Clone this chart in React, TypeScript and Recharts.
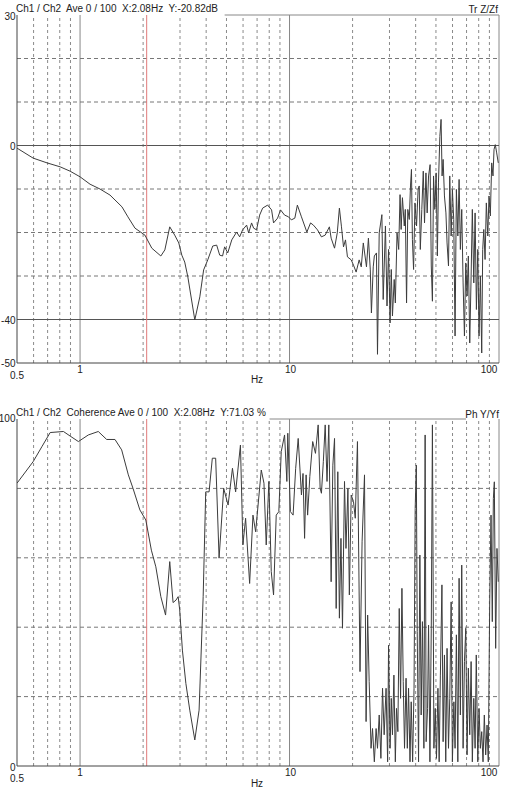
import React from 'react';
import { LineChart, Line, XAxis, YAxis, ReferenceLine } from 'recharts';

// ---------- data ----------
const transfer: [number, number][] = [
  [0.5, -0.6], [0.597, -2.9], [0.696, -4.0], [0.803, -4.9], [0.896, -5.9], [1.0, -7.2], [1.116, -8.9],
  [1.245, -10.0], [1.39, -11.4], [1.585, -14.1], [1.692, -16.4], [1.829, -19.0], [2.04, -20.6], [2.2, -23.6],
  [2.43, -25.4], [2.54, -24.0], [2.68, -18.7], [2.83, -20.6], [2.96, -22.4], [3.06, -25.2], [3.16, -26.8],
  [3.27, -30.2], [3.53, -40.1], [3.73, -34.8], [3.89, -28.6], [4.07, -26.3], [4.3, -23.1], [4.49, -22.9],
  [4.64, -25.2], [4.79, -25.4], [4.9, -23.3], [5.07, -24.7], [5.3, -21.7], [5.59, -19.9], [5.78, -21.0],
  [5.97, -19.4], [6.24, -18.3], [6.38, -20.1], [6.59, -17.8], [6.74, -19.0], [6.96, -19.4], [7.2, -16.0],
  [7.44, -14.4], [7.86, -13.7], [8.21, -14.8], [8.39, -17.8], [8.77, -16.7], [9.06, -14.8], [9.47, -16.0],
  [9.89, -16.4], [10.2, -17.1], [10.6, -16.7], [10.9, -13.7], [11.4, -16.4], [12.1, -19.9], [12.6, -17.8],
  [13.0, -18.3], [13.6, -19.4], [14.2, -21.0], [14.8, -20.6], [15.5, -18.7], [15.8, -21.3], [16.4, -23.6],
  [16.9, -20.1], [17.3, -14.4], [17.7, -18.7], [18.1, -23.3], [18.5, -21.7], [18.9, -25.6], [19.7, -26.3],
  [20.2, -27.5], [20.8, -29.1], [21.5, -26.3], [22.0, -27.9], [22.5, -22.4], [23.3, -27.9], [23.8, -21.3],
  [24.3, -28.6], [24.6, -38.5], [25.1, -27.9], [25.4, -25.4], [26.0, -24.7], [26.3, -48.0], [26.8, -20.1],
  [27.6, -15.9], [28.0, -35.4], [28.7, -18.5], [29.2, -36.9], [29.7, -23.9], [30.2, -40.8], [30.6, -28.5],
  [31.0, -39.2], [31.6, -30.8], [32.0, -36.2], [32.6, -20.1], [33.2, -23.9], [33.7, -11.3], [34.1, -19.3],
  [34.6, -12.0], [35.3, -18.5], [35.7, -14.7], [36.2, -36.2], [36.7, -14.7], [37.3, -17.0], [37.8, -9.3],
  [38.2, -5.5], [38.6, -21.6], [39.1, -28.5], [39.7, -13.2], [40.4, -18.5], [41.1, -10.1], [41.6, -9.3],
  [42.1, -23.9], [42.8, -14.7], [43.5, -5.9], [44.1, -17.8], [44.8, -6.3], [45.4, -15.5], [46.1, -7.0],
  [46.9, -4.4], [47.5, -27.7], [48.1, -35.8], [48.7, -7.0], [49.4, -14.7], [50.1, -6.3], [50.8, -25.4],
  [51.4, -8.6], [52.2, 2.1], [52.9, 6.0], [53.5, -7.0], [54.1, -3.2], [54.9, -11.6], [55.8, -15.5],
  [56.5, -22.4], [57.4, -27.7], [58.2, -7.0], [59.1, -20.8], [59.9, -10.1], [60.8, -17.0], [61.7, -43.8],
  [62.6, -10.1], [63.6, -20.8], [64.5, -7.8], [65.4, -23.9], [66.4, -14.7], [67.4, -31.6], [68.4, -43.8],
  [69.4, -27.0], [70.4, -34.6], [71.4, -25.4], [72.5, -45.4], [73.6, -30.0], [74.6, -14.7], [75.8, -31.6],
  [76.9, -15.5], [78.0, -37.7], [79.2, -23.9], [80.3, -43.8], [81.5, -30.0], [82.7, -47.7], [83.6, -23.9],
  [84.6, -19.3], [85.8, -26.2], [87.0, -13.2], [88.4, -20.8], [89.6, -11.6], [90.9, -16.2], [92.3, -4.0],
  [93.6, -7.0], [94.7, -0.9], [96.0, 0.2], [97.5, -1.7], [99.2, -4.0],
];

const coherence: [number, number][] = [
  [0.5, 81.5], [0.597, 87.7], [0.657, 92.0], [0.72, 96.1], [0.833, 96.4], [0.896, 95.1], [0.982, 93.5],
  [1.095, 95.4], [1.222, 96.4], [1.34, 94.1], [1.468, 94.1], [1.58, 91.1], [1.7, 83.9], [1.79, 80.0],
  [1.93, 73.8], [2.06, 70.9], [2.19, 62.2], [2.3, 57.4], [2.43, 48.8], [2.56, 43.5], [2.68, 58.9],
  [2.78, 47.1], [2.87, 47.8], [2.94, 48.8], [2.99, 45.0], [3.08, 33.4], [3.2, 23.8], [3.34, 16.1],
  [3.53, 7.5], [3.7, 16.1], [3.87, 48.8], [3.98, 79.0], [4.13, 79.0], [4.28, 88.7], [4.44, 88.7],
  [4.61, 59.9], [4.85, 80.0], [5.09, 75.2], [5.34, 85.8], [5.53, 79.0], [5.83, 92.5], [5.99, 63.7],
  [6.17, 71.4], [6.45, 52.6], [6.69, 72.3], [6.89, 67.5], [7.33, 85.3], [7.55, 81.5], [7.74, 63.7],
  [7.97, 82.0], [8.18, 56.0], [8.39, 49.3], [8.64, 72.3], [8.89, 73.3], [9.13, 90.6], [9.47, 95.4],
  [9.71, 82.0], [9.81, 95.9], [10.1, 73.3], [10.4, 72.3], [10.7, 85.8], [11.0, 94.4], [11.4, 78.1],
  [11.6, 84.3], [11.8, 65.6], [12.0, 83.9], [12.2, 72.3], [12.5, 83.4], [12.9, 93.5], [13.3, 90.1],
  [13.7, 98.3], [14.0, 80.0], [14.2, 78.6], [14.5, 87.7], [14.8, 98.3], [15.1, 82.0], [15.4, 98.3],
  [15.8, 53.1], [16.1, 86.7], [16.4, 94.4], [16.7, 45.4], [17.0, 84.8], [17.3, 42.6], [17.6, 65.6],
  [17.9, 39.7], [18.3, 82.0], [18.6, 62.7], [19.0, 80.0], [19.3, 49.3], [19.7, 78.1], [20.2, 76.2],
  [20.6, 71.4], [21.1, 93.5], [21.7, 27.2], [22.2, 64.6], [22.8, 83.9], [23.2, 12.8], [23.6, 43.5],
  [24.0, 24.3], [24.5, 5.1], [24.9, 10.8], [25.4, 1.2], [25.9, 10.8], [26.3, 5.1], [26.8, 14.7],
  [27.3, 2.2], [27.8, 22.4], [28.3, 9.0], [28.9, 22.4], [29.4, 1.2], [29.7, 34.8], [30.2, 5.1],
  [30.6, 19.5], [31.0, 9.0], [31.5, 26.2], [32.0, 1.2], [32.4, 16.6], [32.9, 9.9], [33.4, 45.4],
  [33.9, 19.5], [34.4, 51.2], [34.9, 24.3], [35.4, 5.1], [36.0, 25.3], [36.5, 5.1], [37.0, 22.4],
  [37.6, 1.2], [38.1, 18.5], [38.7, 1.2], [39.3, 22.4], [39.8, 74.2], [40.3, 86.7], [40.7, 38.7],
  [41.3, 1.2], [41.9, 60.8], [42.5, 14.7], [43.1, 41.6], [43.8, 5.1], [44.4, 95.4], [44.9, 7.0],
  [45.6, 16.6], [46.1, 40.6], [46.8, 1.2], [47.5, 39.7], [48.1, 98.3], [48.9, 5.1], [49.6, 16.6],
  [50.3, 2.2], [51.1, 22.4], [51.8, 1.2], [52.5, 26.2], [53.4, 52.2], [54.1, 7.0], [54.9, 32.0],
  [55.7, 1.2], [56.5, 33.9], [57.4, 5.1], [58.2, 19.5], [59.1, 47.3], [59.9, 1.2], [60.9, 18.5],
  [61.7, 5.1], [62.6, 37.8], [63.6, 1.2], [64.5, 54.1], [65.4, 14.7], [66.4, 57.9], [67.4, 5.1],
  [68.4, 30.1], [69.4, 39.7], [70.4, 3.2], [71.4, 28.2], [72.5, 9.0], [73.6, 30.1], [74.6, 1.2],
  [75.8, 19.5], [76.9, 5.1], [77.9, 32.0], [79.2, 1.2], [80.3, 16.6], [81.5, 5.1], [82.7, 9.9],
  [83.9, 1.2], [85.1, 14.7], [86.4, 3.2], [87.7, 11.8], [88.9, 1.2], [90.3, 47.3], [91.6, 72.3],
  [92.9, 41.6], [94.0, 77.1], [95.0, 81.9], [96.4, 33.9], [97.8, 62.7], [99.2, 53.1],
];

const xTicks = [0.5, 1, 10, 100];
const minorHz = [0.6, 0.7, 0.8, 0.9, 2, 3, 4, 5, 6, 7, 8, 9, 20, 30, 40, 50, 60, 70, 80, 90];
const majorHz = [1, 10, 100];
const cursorHz = 2.08;

const trTicks = [30, 0, -40, -50];
const trDashed = [20, 10, -10, -20, -30];
const trSolid = [0, -40];
const cohTicks = [100, 0];
const cohDashed = [80, 60, 40, 20];

const topTitle = 'Ch1 / Ch2  Ave 0 / 100  X:2.08Hz  Y:-20.82dB';
const topRight = 'Tr Z/Zf';
const botTitle = 'Ch1 / Ch2  Coherence Ave 0 / 100  X:2.08Hz  Y:71.03 %';
const botRight = 'Ph Y/Yf';

const trData = transfer.map(([f, v]) => ({ f, v }));
const cohData = coherence.map(([f, v]) => ({ f, v }));

const FONT = '"Liberation Sans", Arial, sans-serif';
const TXT = '#222';

const XTick = (props: any) => {
  const { x, y, payload } = props;
  const v = payload.value;
  let dx = 0;
  let dy = 10;
  if (v === 0.5) dy = 15.5;
  if (v === 10) dx = 1;
  if (v === 100) dx = -5;
  return (
    <text x={x + dx} y={y + dy} textAnchor="middle" fontSize={10} fontFamily={FONT} fill={TXT}>
      {v}
    </text>
  );
};

const makeYTick = (topVal: number, topDy: number, botDy: number) => (props: any) => {
  const { x, y, payload } = props;
  const v = payload.value;
  let dy = 4;
  if (v === topVal) dy = topDy;
  if (v === 0 && topVal === 100) dy = botDy;
  return (
    <text x={x - 1.5} y={y + dy} textAnchor="end" fontSize={10} fontFamily={FONT} fill={TXT}>
      {v}
    </text>
  );
};

const GRID = '#8a8a8a';
const DASH = '3 3';
const TRACE = '#3c3c3c';

export default function App() {
  return (
    <div style={{ position: 'absolute', left: 0, top: 0, width: 506, height: 791, background: '#fff', overflow: 'hidden' }}>
      <div style={{ position: 'absolute', left: 0, top: 0 }}>
        <LineChart width={506} height={395} data={trData} margin={{ top: 15, right: 7, bottom: 0, left: 0 }}>
          <XAxis
            dataKey="f"
            type="number"
            scale="log"
            domain={[0.5, 100]}
            ticks={xTicks}
            allowDataOverflow
            height={32}
            tickLine={false}
            tickSize={0}
            tickMargin={0}
            axisLine={{ stroke: '#444' }}
            tick={<XTick />}
          />
          <YAxis
            type="number"
            domain={[-50, 30]}
            ticks={trTicks}
            width={17}
            tickLine={false}
            tickSize={0}
            tickMargin={0}
            axisLine={{ stroke: '#444' }}
            tick={makeYTick(30, 5, 4)}
            allowDataOverflow
          />
          {minorHz.map((h) => (
            <ReferenceLine key={'mh' + h} x={h} stroke={GRID} strokeDasharray={DASH} strokeWidth={1} />
          ))}
          {majorHz.map((h) => (
            <ReferenceLine key={'Mh' + h} x={h} stroke="#888" strokeWidth={1} />
          ))}
          {trDashed.map((v) => (
            <ReferenceLine key={'td' + v} y={v} stroke="#777" strokeDasharray="4 3" strokeWidth={1} />
          ))}
          {trSolid.map((v) => (
            <ReferenceLine key={'ts' + v} y={v} stroke="#555" strokeWidth={1} />
          ))}
          <ReferenceLine segment={[{ x: 4.9, y: 30 }, { x: 100, y: 30 }]} stroke="#888" strokeWidth={1} />
          <ReferenceLine x={cursorHz} stroke="#e07a7a" strokeWidth={1} />
          <Line type="linear" dataKey="v" stroke={TRACE} strokeWidth={1} dot={false} isAnimationActive={false} />
        </LineChart>
      </div>

      <div style={{ position: 'absolute', left: 0, top: 400 }}>
        <LineChart width={506} height={391} data={cohData} margin={{ top: 19, right: 7, bottom: 0, left: 0 }}>
          <XAxis
            dataKey="f"
            type="number"
            scale="log"
            domain={[0.5, 100]}
            ticks={xTicks}
            allowDataOverflow
            height={25}
            tickLine={false}
            tickSize={0}
            tickMargin={0}
            axisLine={{ stroke: '#444' }}
            tick={<XTick />}
          />
          <YAxis
            type="number"
            domain={[0, 100]}
            ticks={cohTicks}
            width={17}
            tickLine={false}
            tickSize={0}
            tickMargin={0}
            axisLine={{ stroke: '#444' }}
            tick={makeYTick(100, 3, 5)}
            allowDataOverflow
          />
          {minorHz.map((h) => (
            <ReferenceLine key={'mh' + h} x={h} stroke={GRID} strokeDasharray={DASH} strokeWidth={1} />
          ))}
          {majorHz.map((h) => (
            <ReferenceLine key={'Mh' + h} x={h} stroke="#888" strokeWidth={1} />
          ))}
          {cohDashed.map((v) => (
            <ReferenceLine key={'cd' + v} y={v} stroke="#777" strokeDasharray="4 3" strokeWidth={1} />
          ))}
          <ReferenceLine segment={[{ x: 8.03, y: 100 }, { x: 69.6, y: 100 }]} stroke="#888" strokeWidth={1} />
          <ReferenceLine x={cursorHz} stroke="#e07a7a" strokeWidth={1} />
          <Line type="linear" dataKey="v" stroke={TRACE} strokeWidth={1} dot={false} isAnimationActive={false} />
        </LineChart>
      </div>

      <svg width={506} height={791} style={{ position: 'absolute', left: 0, top: 0, pointerEvents: 'none' }}>
        <g fontFamily={FONT} fontSize={10} fill={TXT}>
          <text x={16} y={12} style={{ whiteSpace: 'pre' }} xmlSpace="preserve">{topTitle}</text>
          <text x={498} y={13} textAnchor="end">{topRight}</text>
          <text x={257} y={383} textAnchor="middle">Hz</text>
          <text x={16} y={416} style={{ whiteSpace: 'pre' }} xmlSpace="preserve">{botTitle}</text>
          <text x={499} y={418} textAnchor="end">{botRight}</text>
          <text x={257} y={787} textAnchor="middle">Hz</text>
        </g>
      </svg>
    </div>
  );
}
